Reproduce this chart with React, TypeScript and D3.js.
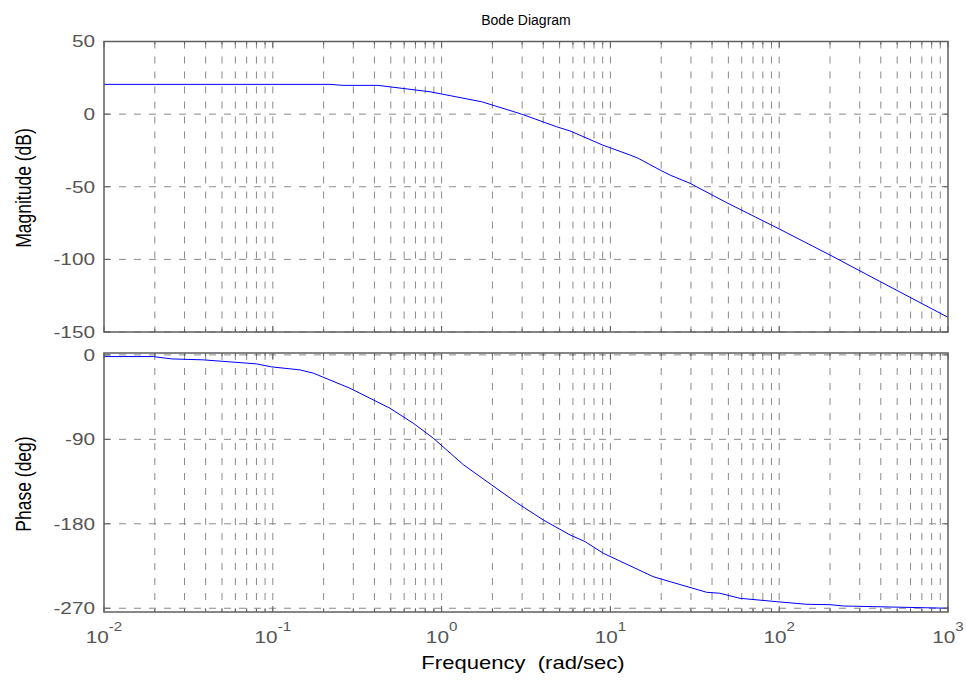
import React, {useRef, useEffect} from 'react';
import * as d3 from 'd3';

// 幅频特性 (rad/sec, dB)
const magFreq = [0.01, 0.218, 0.26, 0.42, 0.853, 1.73, 2.98, 4.8, 5.77, 9.0, 13.1, 14.6, 19.7, 22.6, 29.6, 48.9, 101, 200, 395, 1000];
const magDb = [20.5, 20.5, 19.8, 19.8, 15.4, 8.5, 0, -8.7, -11.6, -21.3, -28.2, -30.4, -38.5, -42, -47.6, -61, -79.3, -97, -115.2, -139.9];

// 相频特性 (rad/sec, deg)
const phaseFreq = [0.01, 0.0196, 0.0252, 0.0387, 0.0801, 0.0984, 0.145, 0.174, 0.286, 0.494, 0.679, 0.893, 1.345, 1.98, 2.78, 4.0, 5.77, 7.08, 9.08, 17.9, 22.6, 37.2, 44.4, 58.6, 96.6, 146, 200, 240, 1000];
const phaseDeg = [-1.8, -1.8, -4.3, -5.3, -9.6, -12.8, -16, -19.5, -35.5, -56.8, -72.8, -88.8, -117, -138.6, -157.4, -175.9, -191.9, -199, -211.4, -236.3, -241.7, -253, -254, -259.4, -263, -265.8, -266.2, -267.6, -270];

const magTicks = [50, 0, -50, -100, -150];
const phaseTicks = [0, -90, -180, -270];
const decades = [-2, -1, 0, 1, 2, 3];

export default function App() {
  const chartRef = useRef<HTMLDivElement>(null);

  useEffect(() => {
    draw();
  }, []);

  function draw() {
    const ele = chartRef.current;
    if (!ele) return;
    d3.select(ele).selectAll('*').remove();

    const w = 966;
    const h = 680;
    const left = 104;
    const right = 948;
    const sx = 1.26; // 原图横向拉伸
    const font = 'Liberation Sans, Arial, sans-serif';
    const axisColor = '#5f5f5f';
    const gridColor = '#8a8a8a';
    const tickText = '#555555';

    const svg = d3.select(ele)
      .append('svg')
      .attr('width', w)
      .attr('height', h)
      .style('display', 'block');

    // 横向拉伸的文字
    const label = (px: number, py: number, size: number, anchor: string, color: string, k = sx) =>
      svg.append('g')
        .attr('transform', `translate(${px},${py}) scale(${k},1)`)
        .append('text')
        .attr('text-anchor', anchor)
        .attr('font-family', font)
        .attr('font-size', size + 'px')
        .attr('fill', color);

    const x = d3.scaleLog().domain([1e-2, 1e3]).range([left, right]);

    // 网格的位置 1..9 x 10^k
    const minor: number[] = [];
    decades.slice(0, -1).forEach(e => {
      for (let m = 1; m <= 9; m++) minor.push(m * Math.pow(10, e));
    });
    minor.push(1e3);

    const panel = (yScale: d3.ScaleLinear<number, number>, ticks: number[], fx: number[], fy: number[]) => {
      const [y0, y1] = yScale.range();
      const top = Math.min(y0, y1);
      const bottom = Math.max(y0, y1);
      const g = svg.append('g');

      // 网格
      g.selectAll('.vgrid')
        .data(minor.filter(v => v > 1e-2 && v < 1e3))
        .enter()
        .append('line')
        .attr('x1', d => x(d))
        .attr('x2', d => x(d))
        .attr('y1', top)
        .attr('y2', bottom)
        .attr('stroke', gridColor)
        .attr('stroke-width', 1)
        .attr('stroke-dasharray', '7,8');

      g.selectAll('.hgrid')
        .data(ticks)
        .enter()
        .append('line')
        .attr('x1', left)
        .attr('x2', right)
        .attr('y1', d => yScale(d))
        .attr('y2', d => yScale(d))
        .attr('stroke', gridColor)
        .attr('stroke-width', 1)
        .attr('stroke-dasharray', '7,8');

      // 曲线
      const line = d3.line<number>()
        .x((d, i) => x(fx[i]))
        .y(d => yScale(d));
      g.append('path')
        .attr('d', line(fy))
        .attr('fill', 'none')
        .attr('stroke', '#0000ff')
        .attr('stroke-width', 1);

      // 刻度
      minor.forEach(v => {
        const len = decades.some(e => Math.abs(Math.pow(10, e) - v) < 1e-9) ? 6 : 3;
        g.append('line').attr('x1', x(v)).attr('x2', x(v)).attr('y1', bottom).attr('y2', bottom - len)
          .attr('stroke', axisColor);
        g.append('line').attr('x1', x(v)).attr('x2', x(v)).attr('y1', top).attr('y2', top + len)
          .attr('stroke', axisColor);
      });
      ticks.forEach(t => {
        g.append('line').attr('x1', left).attr('x2', left + 6).attr('y1', yScale(t)).attr('y2', yScale(t))
          .attr('stroke', axisColor);
        g.append('line').attr('x1', right).attr('x2', right - 6).attr('y1', yScale(t)).attr('y2', yScale(t))
          .attr('stroke', axisColor);
      });

      g.append('rect')
        .attr('x', left)
        .attr('y', top)
        .attr('width', right - left)
        .attr('height', bottom - top)
        .attr('fill', 'none')
        .attr('stroke', axisColor)
        .attr('stroke-width', 1.5);

      ticks.forEach(t => {
        label(95, yScale(t), 16.5, 'end', tickText)
          .attr('dy', '0.36em')
          .text(t);
      });
    };

    const yMag = d3.scaleLinear().domain([-150, 50]).range([332, 41.5]);
    const yPhase = d3.scaleLinear().domain([-274, 2]).range([612, 353]);

    panel(yMag, magTicks, magFreq, magDb);
    panel(yPhase, phaseTicks, phaseFreq, phaseDeg);

    // x 轴刻度标签
    decades.forEach(e => {
      const t = label(x(Math.pow(10, e)), 643, 16.5, 'middle', tickText);
      t.append('tspan').text('10');
      t.append('tspan').attr('dy', -12).attr('font-size', '12px').text(e);
    });

    // 标题
    label(526, 25, 14, 'middle', '#000', 1).text('Bode Diagram');

    label(523, 669, 17.5, 'middle', '#000')
      .style('white-space', 'pre')
      .text('Frequency  (rad/sec)');

    svg.append('text')
      .attr('transform', `translate(31,188) scale(${sx},1) rotate(-90)`)
      .attr('text-anchor', 'middle')
      .attr('font-family', font)
      .attr('font-size', '17.5px')
      .attr('fill', '#000')
      .text('Magnitude (dB)');

    svg.append('text')
      .attr('transform', `translate(31,484) scale(${sx},1) rotate(-90)`)
      .attr('text-anchor', 'middle')
      .attr('font-family', font)
      .attr('font-size', '17.5px')
      .attr('fill', '#000')
      .text('Phase (deg)');
  }

  return (
    <div ref={chartRef} style={{position: 'absolute', top: 0, left: 0}}></div>
  );
}
